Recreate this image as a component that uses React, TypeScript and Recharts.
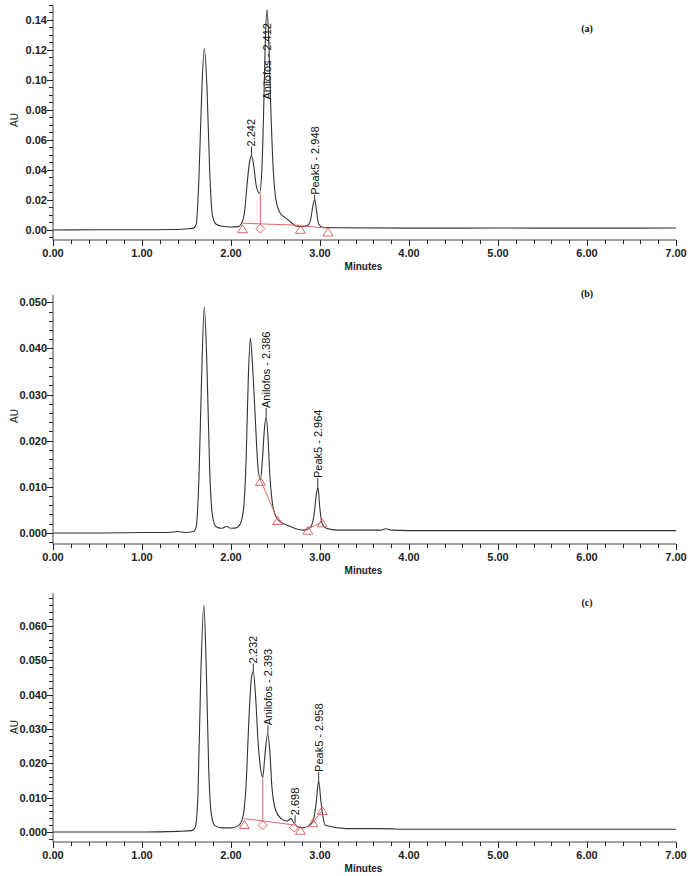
import React from "react";
import { ComposedChart, Line, Scatter, XAxis, YAxis, ReferenceLine } from "recharts";

const INK = "#333";
const RED = "#dc6868";
const SANS = "Arial, 'Liberation Sans', sans-serif";

type Pt = [number, number];

// minutes on the x axis (labelled every 1.00, minor ticks every 0.20)
const minuteLabels = [0, 1, 2, 3, 4, 5, 6, 7];
const minuteMinorStep = 0.2;

// ---- panel (a) ----
const traceA: Pt[] = [
  [0, 0], [0.5, 0.0001], [1.0, 0.0001], [1.4, 0.0003], [1.52, 0.0008], [1.58, 0.0012],
  [1.61, 0.004], [1.64, 0.035], [1.67, 0.09], [1.7, 0.121], [1.73, 0.095], [1.76, 0.04],
  [1.79, 0.01], [1.83, 0.004], [1.9, 0.0025], [2.0, 0.002], [2.08, 0.0022], [2.11, 0.0035],
  [2.15, 0.011], [2.18, 0.03], [2.21, 0.046], [2.23, 0.0495], [2.255, 0.043], [2.285, 0.029],
  [2.32, 0.0245], [2.345, 0.038], [2.365, 0.075], [2.385, 0.125], [2.405, 0.147], [2.425, 0.125],
  [2.445, 0.085], [2.475, 0.04], [2.505, 0.02], [2.555, 0.011], [2.615, 0.008], [2.655, 0.006],
  [2.695, 0.004], [2.735, 0.0025], [2.8, 0.0022], [2.86, 0.003], [2.895, 0.007], [2.92, 0.016],
  [2.94, 0.0205], [2.96, 0.013], [2.985, 0.004], [3.03, 0.0018], [3.2, 0.0015], [4.0, 0.0012],
  [5.0, 0.0013], [6.0, 0.0012], [7.0, 0.0013],
];
const labelsA = [
  { x: 2.23, peak: 0.0495, y: 0.0557, text: "2.242" },
  { x: 2.405, peak: 0.147, y: 0.087, text: "Anilofos - 2.412" },
  { x: 2.94, peak: 0.0205, y: 0.0234, text: "Peak5 - 2.948" },
];
const baselineA: Pt[][] = [
  [[2.13, 0.0045], [2.78, 0.0031]],
  [[2.33, 0.0041], [2.33, 0.0245]],
  [[2.78, 0.0028], [3.09, 0.0012]],
];
const markersA = [
  { x: 2.13, y: 0.0008, kind: "tri" },
  { x: 2.33, y: 0.0009, kind: "dia" },
  { x: 2.78, y: 0.0004, kind: "tri" },
  { x: 3.09, y: -0.0014, kind: "tri" },
];

// ---- panel (b) ----
const traceB: Pt[] = [
  [0, 0], [0.5, 0], [1.0, 0.0001], [1.3, 0.0001], [1.4, 0.0003], [1.48, 0.0001], [1.58, 0.0003],
  [1.61, 0.0015], [1.64, 0.012], [1.67, 0.034], [1.7, 0.049], [1.73, 0.036], [1.76, 0.014],
  [1.79, 0.004], [1.83, 0.0014], [1.89, 0.001], [1.95, 0.0014], [2.0, 0.001], [2.06, 0.0011],
  [2.1, 0.0018], [2.14, 0.005], [2.17, 0.016], [2.195, 0.034], [2.218, 0.0422], [2.24, 0.037],
  [2.27, 0.026], [2.3, 0.015], [2.33, 0.0115], [2.355, 0.0165], [2.375, 0.0225], [2.395, 0.0252],
  [2.415, 0.021], [2.435, 0.013], [2.465, 0.0065], [2.505, 0.0035], [2.555, 0.0024], [2.62, 0.0018],
  [2.68, 0.0013], [2.75, 0.0008], [2.82, 0.0006], [2.89, 0.0012], [2.93, 0.0035], [2.96, 0.0085],
  [2.978, 0.0099], [2.995, 0.006], [3.025, 0.002], [3.07, 0.001], [3.2, 0.0006], [3.68, 0.0006],
  [3.74, 0.0009], [3.8, 0.0006], [4.0, 0.0005], [5.0, 0.0005], [6.0, 0.0005], [7.0, 0.0005],
];
const labelsB = [
  { x: 2.395, peak: 0.0252, y: 0.0271, text: "Anilofos - 2.386" },
  { x: 2.975, peak: 0.0099, y: 0.0119, text: "Peak5 - 2.964" },
];
const baselineB: Pt[][] = [
  [[2.33, 0.0115], [2.526, 0.0028]],
  [[2.863, 0.0008], [3.025, 0.0024]],
];
const markersB = [
  { x: 2.33, y: 0.0112, kind: "tri" },
  { x: 2.526, y: 0.0027, kind: "tri" },
  { x: 2.863, y: 0.0006, kind: "tri" },
  { x: 3.025, y: 0.0022, kind: "tri" },
];

// ---- panel (c) ----
const traceC: Pt[] = [
  [0, 0], [1.0, 0], [1.4, 0.0002], [1.56, 0.0004], [1.6, 0.0015], [1.63, 0.012], [1.66, 0.045],
  [1.695, 0.066], [1.72, 0.05], [1.75, 0.018], [1.78, 0.005], [1.82, 0.0018], [1.9, 0.0012],
  [2.0, 0.0012], [2.08, 0.0018], [2.13, 0.004], [2.17, 0.014], [2.2, 0.032], [2.23, 0.045],
  [2.25, 0.0467], [2.275, 0.04], [2.305, 0.026], [2.335, 0.018], [2.357, 0.016], [2.38, 0.022],
  [2.412, 0.0287], [2.435, 0.024], [2.46, 0.013], [2.5, 0.0065], [2.56, 0.004], [2.63, 0.0032],
  [2.675, 0.0039], [2.7, 0.003], [2.75, 0.0015], [2.81, 0.0012], [2.87, 0.0018], [2.92, 0.003],
  [2.955, 0.008], [2.985, 0.0149], [3.01, 0.009], [3.03, 0.005], [3.06, 0.002], [3.3, 0.001],
  [3.7, 0.001], [4.0, 0.0008], [5.0, 0.0008], [6.0, 0.0008], [7.0, 0.0008],
];
const labelsC = [
  { x: 2.25, peak: 0.0467, y: 0.0491, text: "2.232" },
  { x: 2.415, peak: 0.0287, y: 0.0311, text: "Anilofos - 2.393" },
  { x: 2.72, peak: 0.0027, y: 0.0049, text: "2.698" },
  { x: 2.985, peak: 0.0149, y: 0.0175, text: "Peak5 - 2.958" },
];
const baselineC: Pt[][] = [
  [[2.15, 0.0039], [2.73, 0.002]],
  [[2.357, 0.0031], [2.357, 0.016]],
  [[2.92, 0.0027], [3.025, 0.0063]],
];
const markersC = [
  { x: 2.15, y: 0.0022, kind: "tri" },
  { x: 2.357, y: 0.002, kind: "dia" },
  { x: 2.71, y: 0.0013, kind: "dia" },
  { x: 2.78, y: 0.0005, kind: "tri" },
  { x: 2.92, y: 0.0027, kind: "tri" },
  { x: 3.025, y: 0.0063, kind: "tri" },
];

function steps(from: number, to: number, step: number) {
  const out: number[] = [];
  for (let i = 0; from + i * step <= to + 1e-9; i++) out.push(+(from + i * step).toFixed(5));
  return out;
}

const onStep = (v: number, step: number) => Math.abs(v / step - Math.round(v / step)) < 1e-6;

function YTick(props: any) {
  const { x, y, payload, major, digits } = props;
  const v = Number(payload.value);
  const isMajor = onStep(v, major);
  const len = isMajor ? 6 : 4;
  const yy = Math.round(y) + 0.5;
  return (
    <g>
      <line x1={x - len} x2={x} y1={yy} y2={yy} stroke="#222" strokeWidth={1} shapeRendering="crispEdges" />
      {isMajor && (
        <text x={x - 6} y={y} textAnchor="end" dominantBaseline="central"
          fontFamily={SANS} fontSize={11} fontWeight="bold" fill="#222">
          {v.toFixed(digits)}
        </text>
      )}
    </g>
  );
}

function XTick(props: any) {
  const { x, y, payload } = props;
  const v = Number(payload.value);
  const isMajor = minuteLabels.some((m) => Math.abs(m - v) < 1e-6);
  const xx = Math.round(x) + 0.5;
  return (
    <g>
      <line x1={xx} x2={xx} y1={y} y2={y + (isMajor ? 6 : 4)} stroke="#222" strokeWidth={1} shapeRendering="crispEdges" />
      {isMajor && (
        <text x={x} y={y + 13} textAnchor="middle" dominantBaseline="central"
          fontFamily={SANS} fontSize={11} fontWeight="bold" fill="#222">
          {v.toFixed(2)}
        </text>
      )}
    </g>
  );
}

function Marker(props: any) {
  const { cx, cy, payload } = props;
  if (payload.kind === "dia") {
    return <polygon points={`${cx},${cy - 4.5} ${cx + 4.5},${cy} ${cx},${cy + 4.5} ${cx - 4.5},${cy}`}
      fill="none" stroke={RED} strokeWidth={1} />;
  }
  return <polygon points={`${cx},${cy - 4} ${cx + 5},${cy + 4} ${cx - 5},${cy + 4}`}
    fill="none" stroke={RED} strokeWidth={1} />;
}

function PeakLabel(props: any) {
  const { cx, cy, payload } = props;
  return (
    <text x={cx} y={cy} transform={`rotate(-90 ${cx} ${cy})`} textAnchor="start"
      dominantBaseline="central" fontFamily={SANS} fontSize={11} fill="#111">
      {payload.text}
    </text>
  );
}

interface PanelProps {
  top: number;
  height: number;
  axisHeight: number;
  trace: Pt[];
  domain: [number, number];
  major: number;
  minor: number;
  minorFrom: number;
  digits: number;
  labels: { x: number; peak: number; y: number; text: string }[];
  baseline: Pt[][];
  markers: { x: number; y: number; kind: string }[];
  tag: string;
  tagY: number;
  auY: number;
}

function Panel(p: PanelProps) {
  const data = p.trace.map(([x, y]) => ({ x, y }));
  const xTicks = steps(0, 7, minuteMinorStep);
  const yTicks = steps(p.minorFrom, p.domain[1], p.minor);
  return (
    <div style={{ position: "absolute", left: 0, top: p.top, width: 697, height: p.height }}>
      <ComposedChart width={697} height={p.height} margin={{ top: 5, right: 21, bottom: 0, left: 0 }}>
        <XAxis type="number" dataKey="x" domain={[0, 7]} ticks={xTicks} interval={0} minTickGap={0}
          tickSize={0} tickMargin={0} tickLine={false} height={p.axisHeight}
          axisLine={{ stroke: "#444" }} tick={(t: any) => <XTick {...t} />}
          label={{
            value: "Minutes",
            content: (lp: any) => {
              const vb = lp.viewBox || { x: 53, y: 0, width: 623 };
              return (
                <text x={vb.x + vb.width / 2 - 1} y={vb.y + 26} textAnchor="middle" dominantBaseline="central"
                  fontFamily={SANS} fontSize={10} fontWeight="bold" fill="#222">Minutes</text>
              );
            },
          }} />
        <YAxis type="number" domain={p.domain} allowDataOverflow ticks={yTicks} interval={0} minTickGap={0}
          tickSize={0} tickMargin={0} tickLine={false} width={53}
          axisLine={{ stroke: "#444" }}
          tick={(t: any) => <YTick {...t} major={p.major} digits={p.digits} />}
          label={{
            value: "AU",
            content: () => (
              <text x={14} y={p.auY} transform={`rotate(-90 14 ${p.auY})`} textAnchor="middle"
                dominantBaseline="central" fontFamily={SANS} fontSize={10} fill="#222">AU</text>
            ),
          }} />
        <Line data={data} dataKey="y" type="monotone" stroke={INK} strokeWidth={1.1}
          dot={false} activeDot={false} isAnimationActive={false} />
        {p.baseline.map((seg, i) => (
          <ReferenceLine key={"b" + i} segment={seg.map(([x, y]) => ({ x, y }))}
            stroke={RED} strokeWidth={1} ifOverflow="visible" />
        ))}
        {p.labels.filter((l) => l.peak < l.y).map((l, i) => (
          <ReferenceLine key={"l" + i} segment={[{ x: l.x, y: l.peak }, { x: l.x, y: l.y }]}
            stroke={INK} strokeWidth={1} ifOverflow="visible" />
        ))}
        <Scatter data={p.markers} dataKey="y" shape={(s: any) => <Marker {...s} />} isAnimationActive={false} />
        <Scatter data={p.labels} dataKey="y" shape={(s: any) => <PeakLabel {...s} />} isAnimationActive={false} />
      </ComposedChart>
      <div style={{
        position: "absolute", left: 587, top: p.tagY, transform: "translate(-50%, -50%)",
        fontFamily: "'Liberation Serif', 'Times New Roman', serif", fontWeight: "bold", fontSize: 10, color: "#111",
      }}>{p.tag}</div>
    </div>
  );
}

export default function App() {
  return (
    <div style={{ position: "absolute", left: 0, top: 0, width: 697, height: 876, background: "#fff", overflow: "hidden" }}>
      <Panel top={0} height={280} axisHeight={40} trace={traceA} domain={[-0.0067, 0.15]}
        major={0.02} minor={0.005} minorFrom={-0.005} digits={2}
        labels={labelsA} baseline={baselineA} markers={markersA} tag="(a)" tagY={28} auY={120} />
      <Panel top={290} height={294} axisHeight={40} trace={traceB} domain={[-0.0024, 0.0516]}
        major={0.01} minor={0.002} minorFrom={-0.002} digits={3}
        labels={labelsB} baseline={baselineB} markers={markersB} tag="(b)" tagY={3} auY={126} />
      <Panel top={588} height={288} axisHeight={34} trace={traceC} domain={[-0.0029, 0.0696]}
        major={0.01} minor={0.002} minorFrom={-0.002} digits={3}
        labels={labelsC} baseline={baselineC} markers={markersC} tag="(c)" tagY={14} auY={139} />
    </div>
  );
}
